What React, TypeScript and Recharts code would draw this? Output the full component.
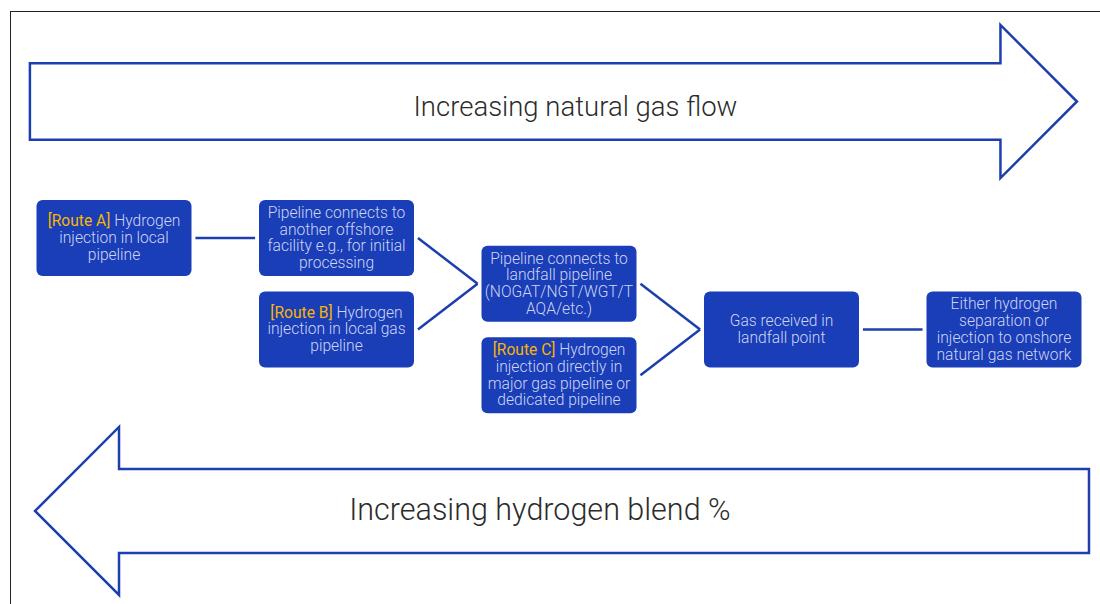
import React from 'react';
import { ScatterChart, Scatter, XAxis, YAxis, ReferenceLine, ReferenceArea } from 'recharts';

// stage = step along the offshore-to-onshore chain, lane = vertical slot in the flow
const NODE_IDS = ['routeA', 'offshore', 'routeB', 'landfallPipe', 'routeC', 'received', 'onshore'];
const NODE_STAGE = [0, 1, 1, 2, 2, 3, 4];
const NODE_LANE = [0, 0, 2, 1, 3, 2, 2];
const NODE_TAGS = ['[Route A]', '', '[Route B]', '', '[Route C]', '', ''];
const NODE_LINES = [
  [' Hydrogen', 'injection in local', 'pipeline'],
  ['Pipeline connects to', 'another offshore', 'facility e.g., for initial', 'processing'],
  [' Hydrogen', 'injection in local gas', 'pipeline'],
  ['Pipeline connects to', 'landfall pipeline', '(NOGAT/NGT/WGT/T', 'AQA/etc.)'],
  [' Hydrogen', 'injection directly in', 'major gas pipeline or', 'dedicated pipeline'],
  ['Gas received in', 'landfall point'],
  ['Either hydrogen', 'separation or', 'injection to onshore', 'natural gas network'],
];

const EDGES = [
  ['routeA', 'offshore'],
  ['offshore', 'landfallPipe'],
  ['routeB', 'landfallPipe'],
  ['landfallPipe', 'received'],
  ['routeC', 'received'],
  ['received', 'onshore'],
];

// big direction arrows, given in stage / lane units
const ARROW_LABELS = ['Increasing natural gas flow', 'Increasing hydrogen blend %'];
const ARROW_DIR = ['right', 'left'];
const ARROW_STAGE_FROM = [-0.378, -0.355];
const ARROW_STAGE_TO = [4.328, 4.382];
const ARROW_LANE_FROM = [-4.656, 4.131];
const ARROW_LANE_TO = [-1.311, 7.803];

const BLUE = '#1a3db8';
const LINE = '#1d3fae';
const TAG = '#f7b500';
const BOX_TEXT = '#cdd6f2';
const FONT = 'Roboto, "DejaVu Sans", sans-serif';

const nodes = NODE_IDS.map((id, i) => ({
  id,
  stage: NODE_STAGE[i],
  lane: NODE_LANE[i],
  tag: NODE_TAGS[i],
  lines: NODE_LINES[i],
}));
const byId = Object.fromEntries(nodes.map((n) => [n.id, n]));
const EDGE_GAP = 0.366; // half box + small gap, in stage units

const arrows = ARROW_LABELS.map((label, i) => ({
  label,
  dir: ARROW_DIR[i],
  x1: ARROW_STAGE_FROM[i],
  x2: ARROW_STAGE_TO[i],
  y1: ARROW_LANE_FROM[i],
  y2: ARROW_LANE_TO[i],
}));

function NodeBox(props: any) {
  const { cx, cy, payload } = props;
  const w = 155;
  const h = 76;
  const lh = 16.8;
  const n = payload.lines.length;
  const top = cy - ((n - 1) * lh) / 2;
  return (
    <g>
      <rect x={cx - w / 2} y={cy - h / 2} width={w} height={h} rx={6} ry={6} fill={BLUE} />
      <text
        textAnchor="middle"
        fontFamily={FONT}
        fontWeight={300}
        fontSize={15.6}
        fill={BOX_TEXT}
        dominantBaseline="central"
      >
        {payload.lines.map((line: string, i: number) => (
          <tspan key={i} x={cx} y={top + i * lh}>
            {i === 0 && payload.tag ? (
              <tspan fill={TAG} fontWeight={400}>
                {payload.tag}
              </tspan>
            ) : null}
            {line}
          </tspan>
        ))}
      </text>
    </g>
  );
}

function arrowShape(a: typeof arrows[number], fontSize: number, dy: number) {
  return (props: any) => {
    const { x, y, width, height } = props;
    const bodyTop = y + height * 0.25;
    const bodyBot = y + height * 0.75;
    const head = height * 0.5;
    const mid = y + height / 2;
    let pts: number[][];
    let labelX: number;
    if (a.dir === 'right') {
      const hx = x + width - head;
      pts = [[x, bodyTop], [hx, bodyTop], [hx, y], [x + width, mid], [hx, y + height], [hx, bodyBot], [x, bodyBot]];
      labelX = x + width * 0.521;
    } else {
      const hx = x + head;
      pts = [[x + width, bodyTop], [hx, bodyTop], [hx, y], [x, mid], [hx, y + height], [hx, bodyBot], [x + width, bodyBot]];
      labelX = x + width * 0.479;
    }
    return (
      <g>
        <polygon
          points={pts.map((p) => p.join(',')).join(' ')}
          fill="#fff"
          stroke={LINE}
          strokeWidth={2.5}
          strokeLinejoin="miter"
        />
        <text
          x={labelX}
          y={mid + dy}
          textAnchor="middle"
          fontFamily={FONT}
          fontWeight={300}
          fontSize={fontSize}
          fill="#2b2b2b"
        >
          {a.label}
        </text>
      </g>
    );
  };
}

export default function App() {
  return (
    <div style={{ position: 'fixed', left: 0, top: 0, width: 1100, height: 604, overflow: 'hidden', background: '#fff' }}>
      <div
        style={{
          position: 'absolute',
          left: 10,
          top: 11,
          width: 1200,
          height: 700,
          borderLeft: '1px solid #222',
          borderTop: '1px solid #222',
        }}
      />
      <div style={{ position: 'absolute', left: 0, top: 0 }}>
        <ScatterChart width={1100} height={604} margin={{ top: 0, right: 0, bottom: 0, left: 0 }}>
          <XAxis type="number" dataKey="stage" domain={[-0.5124, 4.4315]} hide allowDataOverflow />
          <YAxis type="number" dataKey="lane" domain={[-5.202, 8.0]} reversed hide allowDataOverflow />
          {arrows.map((a, i) => (
            <ReferenceArea
              key={a.label}
              x1={a.x1}
              x2={a.x2}
              y1={a.y1}
              y2={a.y2}
              ifOverflow="visible"
              shape={arrowShape(a, i === 0 ? 27.5 : 30.5, i === 0 ? 15 : 9)}
            />
          ))}
          {EDGES.map(([from, to]) => {
            const s = byId[from];
            const t = byId[to];
            return (
              <ReferenceLine
                key={from + to}
                segment={[
                  { x: s.stage + EDGE_GAP, y: s.lane },
                  { x: t.stage - EDGE_GAP, y: t.lane },
                ]}
                stroke={LINE}
                strokeWidth={2.5}
                ifOverflow="visible"
              />
            );
          })}
          <Scatter data={nodes} shape={NodeBox} isAnimationActive={false} />
        </ScatterChart>
      </div>
    </div>
  );
}
